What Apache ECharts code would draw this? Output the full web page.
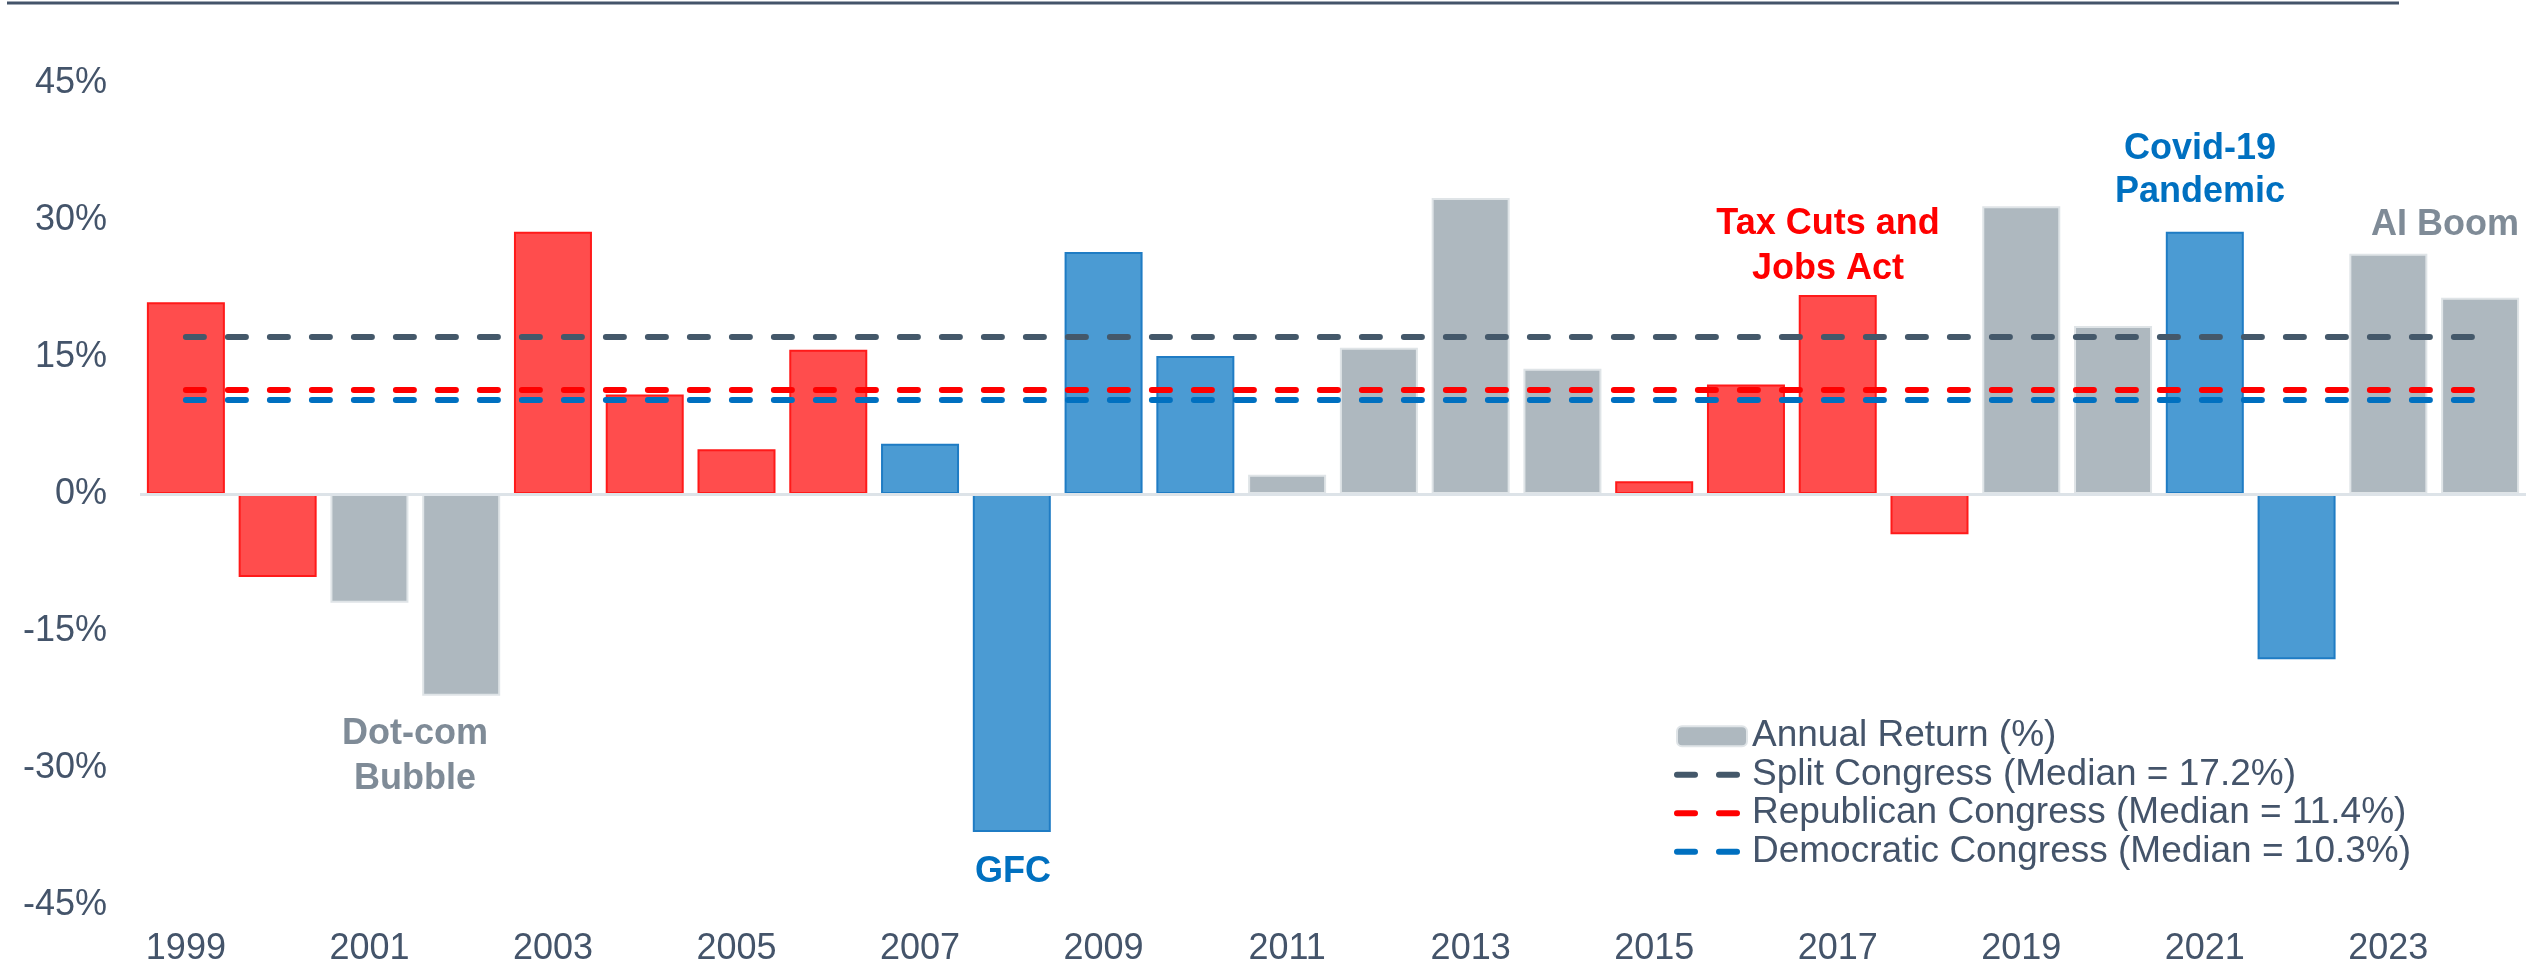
<!DOCTYPE html>
<html>
<head>
<meta charset="utf-8">
<script src="https://cdn.jsdelivr.net/npm/echarts@6/dist/echarts.min.js"></script>
<style>
	html, body { margin: 0; padding: 0; background: #fff; }
	#chart-area { width: 2528px; height: 967px; }
</style>
</head>
<body>
<div id="chart-area"></div>
<script>
// years on the x axis
var years = ['1999','2000','2001','2002','2003','2004','2005','2006','2007','2008','2009','2010','2011',
	'2012','2013','2014','2015','2016','2017','2018','2019','2020','2021','2022','2023','2024'];
// annual return (%) per year
var returns = [21.0, -9.1, -11.9, -22.1, 28.7, 10.9, 4.9, 15.8, 5.5, -37.0, 26.5, 15.1, 2.1,
	16.0, 32.4, 13.7, 1.4, 12.0, 21.8, -4.4, 31.5, 18.4, 28.7, -18.1, 26.3, 21.5];
// congress control: R = republican, D = democratic, S = split
var congress = ['R','R','S','S','R','R','R','R','D','D','D','D','S',
	'S','S','S','R','R','R','R','S','S','D','D','S','S'];
// median lines
var medianNames = ['Split Congress (Median = 17.2%)', 'Republican Congress (Median = 11.4%)', 'Democratic Congress (Median = 10.3%)'];
var medianValues = [17.2, 11.4, 10.3];
var yTicks = [-45, 45, 15];

var textColor = '#44546a';
var fontName = '"Liberation Sans", Arial, sans-serif';

var barColors = {
	R: { color: '#ff4d4d', borderColor: '#ff1a1a' },
	D: { color: '#4b9bd3', borderColor: '#1f7cc4' },
	S: { color: '#aeb8bf', borderColor: '#dfe4e7' }
};
var lineColors = ['#44586a', '#ff0000', '#0070c0'];
var dash = { width: 6, type: [18, 24], cap: 'round' };

function initChart() {
	var myChart = echarts.init(document.getElementById('chart-area'));

	var barData = [];
	for (var i = 0; i < returns.length; i++) {
		barData.push({
			value: returns[i],
			itemStyle: { color: barColors[congress[i]].color, borderColor: barColors[congress[i]].borderColor, borderWidth: 2 }
		});
	}

	var series = [{
		name: 'Annual Return (%)',
		type: 'bar',
		barCategoryGap: '15%',
		itemStyle: { color: '#aeb8bf', borderColor: '#dfe4e7', borderWidth: 1 },
		data: barData,
		markLine: {
			silent: true,
			symbol: 'none',
			label: { show: false },
			lineStyle: { color: '#dde3e8', width: 3, type: 'solid' },
			data: [{ yAxis: 0 }]
		}
	}];
	var legendData = [{ name: 'Annual Return (%)' }];
	for (var k = 0; k < medianValues.length; k++) {
		series.push({
			name: medianNames[k],
			type: 'line',
			symbol: 'none',
			showSymbol: false,
			silent: true,
			z: 5,
			lineStyle: { color: lineColors[k], width: dash.width, type: dash.type, cap: dash.cap },
			itemStyle: { color: lineColors[k] },
			data: years.map(function () { return medianValues[k]; })
		});
		legendData.push({
			name: medianNames[k],
			itemStyle: { opacity: 0 },
			lineStyle: { color: lineColors[k], width: dash.width, type: dash.type, cap: dash.cap }
		});
	}

	// bold annotation text, lh = line spacing
	var bold = function (txt, color, x, y, lh) {
		return {
			type: 'text',
			x: x, y: y,
			z: 100,
			style: {
				text: txt, fill: color, font: 'bold 36px ' + fontName,
				align: 'center', verticalAlign: 'middle', lineHeight: lh || 45
			}
		};
	};

	var option = {
		animation: false,
		backgroundColor: '#fff',
		grid: { left: 140, right: 2, top: 83, bottom: 62 },
		legend: {
			orient: 'vertical',
			left: 1669,
			top: 712,
			itemWidth: 70,
			itemHeight: 20,
			itemGap: 0,
			lineStyle: { width: dash.width },
			textStyle: { color: textColor, fontSize: 37, lineHeight: 38.5, fontFamily: fontName },
			data: legendData
		},
		xAxis: {
			type: 'category',
			data: years,
			axisLine: { show: false, onZero: false },
			axisTick: { show: false },
			axisLabel: { interval: 1, color: textColor, fontSize: 36, fontFamily: fontName, margin: 26 }
		},
		yAxis: {
			type: 'value',
			min: yTicks[0],
			max: yTicks[1],
			interval: yTicks[2],
			splitLine: { show: false },
			axisLine: { show: false },
			axisTick: { show: false },
			axisLabel: { color: textColor, fontSize: 36, fontFamily: fontName, margin: 33, formatter: '{value}%' }
		},
		graphic: [
			{ type: 'line', z: 100, shape: { x1: 7, y1: 3, x2: 2399, y2: 3 }, style: { stroke: '#44546a', lineWidth: 3 } },
			bold('Dot-com\nBubble', '#7f8b97', 415, 757),
			bold('GFC', '#0070c0', 1013, 872),
			bold('Tax Cuts and\nJobs Act', '#ff0000', 1828, 247),
			bold('Covid-19\nPandemic', '#0070c0', 2200, 171, 43),
			bold('AI Boom', '#7f8b97', 2445, 225)
		],
		series: series
	};
	myChart.setOption(option);
}
initChart();
</script>
</body>
</html>
